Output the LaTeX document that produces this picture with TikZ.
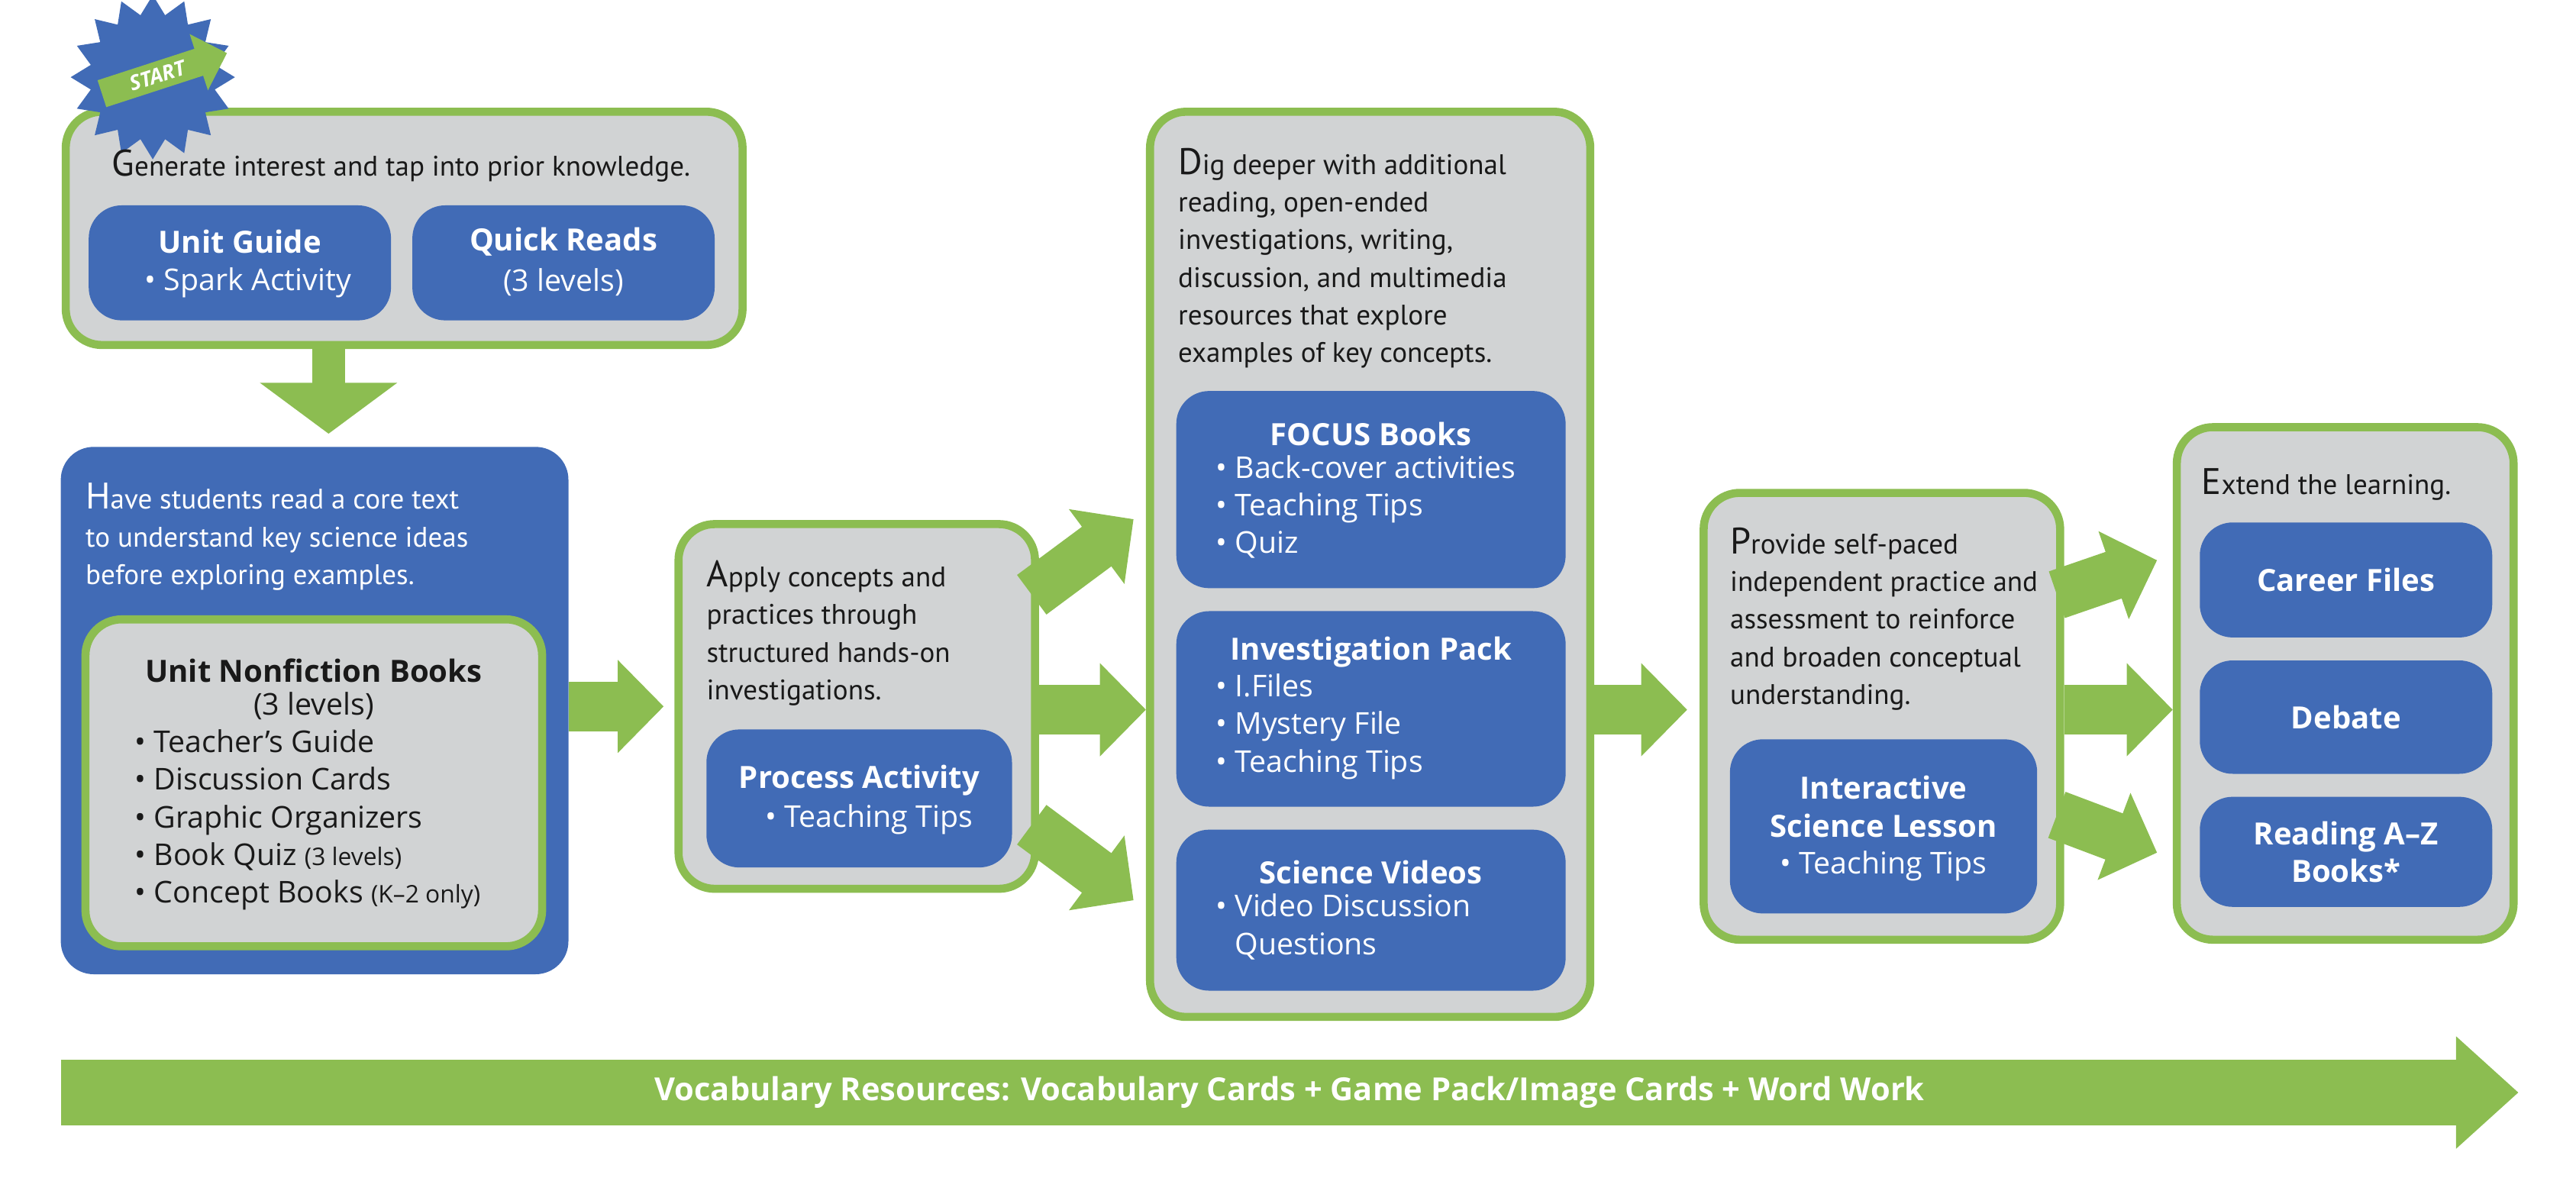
\documentclass[tikz,border=0pt]{standalone}
\usepackage{fontspec}
\setmainfont{Open Sans}
\newfontfamily\descfont{PT Sans}
\usetikzlibrary{shapes.geometric,shapes.arrows,arrows.meta}
\definecolor{lgreen}{HTML}{8CBD51}
\definecolor{rblue}{HTML}{416BB6}
\definecolor{lgray}{HTML}{D1D3D4}
\newcommand{\dropcap}[1]{{\fontsize{32}{32}\selectfont #1}}
\tikzset{
  stage/.style={rectangle, rounded corners=1.1cm, draw=lgreen, line width=7pt, fill=lgray, inner sep=0pt},
  res/.style={rectangle, rounded corners=1cm, fill=rblue, inner sep=0pt},
  desc/.style={anchor=north west, align=left, inner sep=0pt, text=black!90, font=\descfont\fontsize{24.5}{32.6}\selectfont},
  head/.style={inner sep=0pt, text=white, font=\bfseries\fontsize{26.5}{32.6}\selectfont, align=center},
  items/.style={anchor=north west, align=left, inner sep=0pt, text=white, font=\fontsize{26}{32.6}\selectfont},
  flow/.style={draw=lgreen, line width=1.5cm, -{Triangle[width=2.75cm,length=1.4cm]}}
}
\begin{document}
\begin{tikzpicture}[x=0.05cm, y=-0.05cm]
\useasboundingbox (0,0) rectangle (1568,723);
% stage boxes
\node[stage, minimum width=20.6cm, minimum height=7.1cm] (gen) at (246,139) {};
\node[res, minimum width=15.45cm, minimum height=16.05cm] (core) at (191.5,432.5) {};
\node[stage, minimum width=13.9cm, minimum height=9.95cm] (books) at (191,476.5) {};
\node[stage, minimum width=10.85cm, minimum height=11.1cm] (apply) at (521.5,430) {};
\node[stage, minimum width=13.4cm, minimum height=27.55cm] (dig) at (834,343.5) {};
\node[stage, minimum width=10.85cm, minimum height=13.6cm] (prac) at (1145.5,436) {};
\node[stage, minimum width=10.25cm, minimum height=15.6cm] (ext) at (1427.5,416) {};
% start badge
\node[star, star points=16, star point ratio=1.3, fill=rblue, minimum size=5cm, inner sep=0pt] (badge) at (93,47) {};
\node[single arrow, fill=lgreen, rotate=18, minimum height=4cm, minimum width=1.8cm, single arrow head extend=0.3cm, inner sep=1pt, text=white, font=\bfseries\itshape\fontsize{18}{18}\selectfont] (start) at (96,46) {START};
% resource boxes
\node[res, minimum width=9.2cm, minimum height=3.5cm] (guide) at (146,160) {};
\node[res, minimum width=9.2cm, minimum height=3.5cm] (quick) at (343,160) {};
\node[res, minimum width=9.3cm, minimum height=4.2cm] (proc) at (523,486) {};
\node[res, minimum width=11.85cm, minimum height=6cm] (focus) at (834.5,298) {};
\node[res, minimum width=11.85cm, minimum height=5.95cm] (pack) at (834.5,431.5) {};
\node[res, minimum width=11.85cm, minimum height=4.9cm] (video) at (834.5,554) {};
\node[res, minimum width=9.35cm, minimum height=5.3cm] (lesson) at (1146.5,503) {};
\node[res, minimum width=8.9cm, minimum height=3.5cm] (career) at (1428,353) {};
\node[res, minimum width=8.9cm, minimum height=3.45cm] (debate) at (1428,436.5) {};
\node[res, minimum width=8.9cm, minimum height=3.35cm] (raz) at (1428,518.5) {};
% texts
\node[desc] at (68,91) {\dropcap{G}enerate interest and tap into prior knowledge.};
\node[head] at (146,147) {Unit Guide};
\node[head, font=\fontsize{26}{32.6}\selectfont] at (151,172) {• Spark Activity};
\node[head] at (343,147) {Quick Reads};
\node[head, font=\fontsize{26}{32.6}\selectfont] at (343,172) {(3 levels)};
\node[desc, text=white] at (52,294) {\dropcap{H}ave students read a core text\\to understand key science ideas\\before exploring examples.};
\node[head, text=black!90] at (191,408) {Unit Nonfiction Books};
\node[items, text=black!90, anchor=north] at (191,421) {(3 levels)};
\node[items, text=black!90] at (82,444) {• Teacher’s Guide\\• Discussion Cards\\• Graphic Organizers\\• Book Quiz {\fontsize{21}{21}\selectfont(3 levels)}\\• Concept Books {\fontsize{21}{21}\selectfont(K–2 only)}};
\node[desc] at (430,341) {\dropcap{A}pply concepts and\\practices through\\structured hands-on\\investigations.};
\node[head] at (523,475) {Process Activity};
\node[head, font=\fontsize{26}{32.6}\selectfont] at (529,499) {• Teaching Tips};
\node[desc] at (717,90) {\dropcap{D}ig deeper with additional\\reading, open-ended\\investigations, writing,\\discussion, and multimedia\\resources that explore\\examples of key concepts.};
\node[head] at (834.5,264) {FOCUS Books};
\node[items] at (740,277) {• Back-cover activities\\• Teaching Tips\\• Quiz};
\node[head] at (834.5,397) {Investigation Pack};
\node[items] at (740,410) {• I.Files\\• Mystery File\\• Teaching Tips};
\node[head] at (834.5,531) {Science Videos};
\node[items] at (740,544) {• Video Discussion\\\phantom{• }Questions};
\node[desc] at (1053,321) {\dropcap{P}rovide self-paced\\independent practice and\\assessment to reinforce\\and broaden conceptual\\understanding.};
\node[head] at (1146.5,491) {Interactive\\Science Lesson};
\node[head, font=\fontsize{26}{32.6}\selectfont] at (1146.5,527) {• Teaching Tips};
\node[desc] at (1340,285) {\dropcap{E}xtend the learning.};
\node[head] at (career) {Career Files};
\node[head] at (debate) {Debate};
\node[head] at (raz) {Reading A–Z\\Books*};
% flow arrows
\coordinate (a1) at (200,210); \coordinate (a2) at (200,264);
\draw[flow, line width=1cm, -{Triangle[width=4.1cm,length=1.55cm]}] (gen.south -| a1) -- (a2);
\draw[flow] (core.east |- 0,430) -- (404,430);
\coordinate (t1) at (628,362); \coordinate (t2) at (690,316);
\coordinate (b1) at (628,502); \coordinate (b2) at (690,548);
\draw[flow] (t1) -- (t2);
\draw[flow] (apply.east |- 0,432) -- (dig.west |- 0,432);
\draw[flow] (b1) -- (b2);
\draw[flow] (dig.east |- 0,432) -- (1027,432);
\coordinate (u1) at (1252,362); \coordinate (u2) at (1313,341);
\coordinate (d1) at (1252,496); \coordinate (d2) at (1313,519);
\draw[flow] (u1) -- (u2);
\draw[flow] (prac.east |- 0,432) -- (ext.west |- 0,432);
\draw[flow] (d1) -- (d2);
% vocabulary bar
\coordinate (v1) at (37,665); \coordinate (v2) at (1533,665);
\draw[flow, line width=2cm, -{Triangle[width=3.3cm,length=1.9cm]}] (v1) -- (v2);
\node[head, font=\bfseries\fontsize{27.5}{27.5}\selectfont] (vocab) at (785,665) {Vocabulary Resources: Vocabulary Cards + Game Pack/Image Cards + Word Work};
\end{tikzpicture}
\end{document}
